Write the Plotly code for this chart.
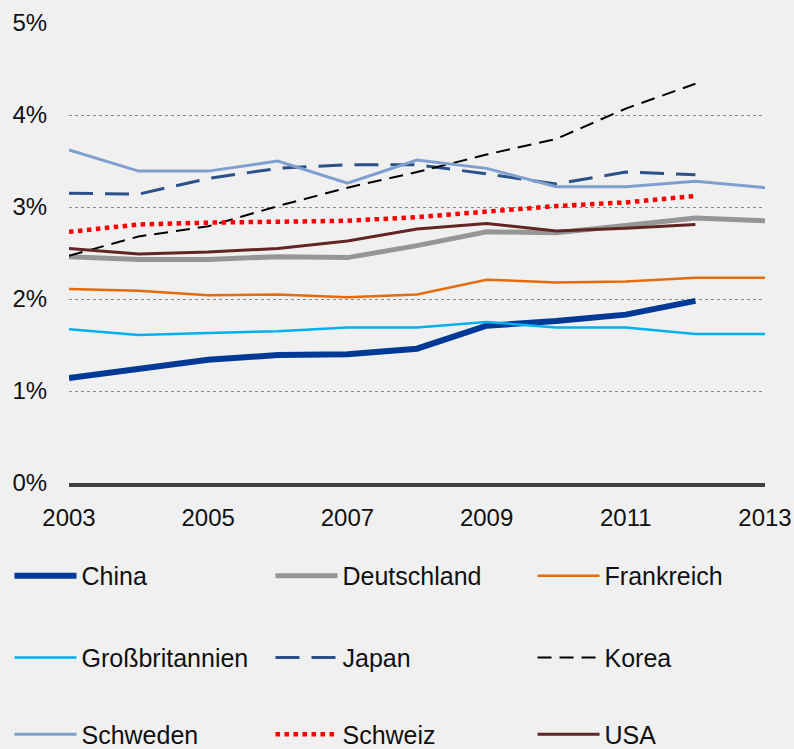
import plotly.graph_objects as go

years = list(range(2003, 2014))

china = [1.14, 1.24, 1.34, 1.39, 1.40, 1.46, 1.71, 1.76, 1.83, 1.98]
deutschland = [2.46, 2.43, 2.43, 2.46, 2.45, 2.58, 2.73, 2.72, 2.80, 2.88, 2.85]
frankreich = [2.11, 2.09, 2.04, 2.05, 2.02, 2.05, 2.21, 2.18, 2.19, 2.23, 2.23]
grossbritannien = [1.67, 1.61, 1.63, 1.65, 1.69, 1.69, 1.75, 1.69, 1.69, 1.62, 1.62]
japan = [3.15, 3.14, 3.31, 3.42, 3.46, 3.46, 3.36, 3.25, 3.38, 3.35]
korea = [2.47, 2.68, 2.79, 3.01, 3.21, 3.38, 3.57, 3.74, 4.07, 4.34]
schweden = [3.62, 3.39, 3.39, 3.50, 3.26, 3.51, 3.42, 3.22, 3.22, 3.28, 3.21]
schweiz = [2.73, 2.81, 2.83, 2.84, 2.85, 2.89, 2.95, 3.01, 3.05, 3.12]
usa = [2.55, 2.49, 2.51, 2.55, 2.63, 2.76, 2.82, 2.74, 2.77, 2.81]

y_ticks = [0, 1, 2, 3, 4, 5]
y_tick_labels = ["0%", "1%", "2%", "3%", "4%", "5%"]
x_ticks = [2003, 2005, 2007, 2009, 2011, 2013]

# (name, values, line style)
series = [
    ("China", china, dict(color="#003A96", width=6)),
    ("Deutschland", deutschland, dict(color="#969696", width=5)),
    ("Frankreich", frankreich, dict(color="#E46C0A", width=2.5)),
    ("Großbritannien", grossbritannien, dict(color="#00B0F0", width=2.5)),
    ("Japan", japan, dict(color="#2A5289", width=3, dash="24px,12px")),
    ("Korea", korea, dict(color="#000000", width=2, dash="14px,8px")),
    ("Schweden", schweden, dict(color="#7F9FD0", width=3)),
    ("Schweiz", schweiz, dict(color="#FF0000", width=4.5, dash="dot")),
    ("USA", usa, dict(color="#632523", width=3)),
]

# legend grid: three columns, three rows below the plot (paper coordinates)
legend_cols = [-0.0855, 0.2895, 0.666]
legend_rows = [-0.202, -0.380, -0.547]

font_family = "Liberation Sans, Arial, sans-serif"
bg = "#F0F0F0"

fig = go.Figure()
legend_layout = {}
for i, (name, vals, line) in enumerate(series):
    key = "legend" if i == 0 else f"legend{i + 1}"
    fig.add_trace(go.Scatter(
        x=years[:len(vals)], y=vals, name=name, mode="lines",
        line=line, legend=key, showlegend=True,
    ))
    legend_layout[key] = dict(
        orientation="h", xanchor="left", yanchor="middle",
        x=legend_cols[i % 3], y=legend_rows[i // 3],
        font=dict(family=font_family, size=25, color="#111111"),
        bgcolor="rgba(0,0,0,0)", itemwidth=62,
    )

fig.update_layout(
    width=794, height=749,
    showlegend=True,
    margin=dict(l=69, r=29, t=23, b=266, autoexpand=False),
    paper_bgcolor=bg, plot_bgcolor=bg,
    font=dict(family=font_family, size=24, color="#111111"),
    xaxis=dict(
        range=[2003, 2013], tickvals=x_ticks, ticktext=[str(v) for v in x_ticks],
        showgrid=False, zeroline=False,
        showline=True, linecolor="#404040", linewidth=4,
        ticks="outside", ticklen=10, tickcolor="rgba(0,0,0,0)",
    ),
    yaxis=dict(
        range=[0, 5], tickvals=y_ticks, ticktext=y_tick_labels,
        showgrid=True, gridcolor="#8C8C8C", gridwidth=1, griddash="dot",
        zeroline=False, showline=False,
        ticks="outside", ticklen=16, tickcolor="rgba(0,0,0,0)",
    ),
    **legend_layout,
)

fig.write_html("out.html")
